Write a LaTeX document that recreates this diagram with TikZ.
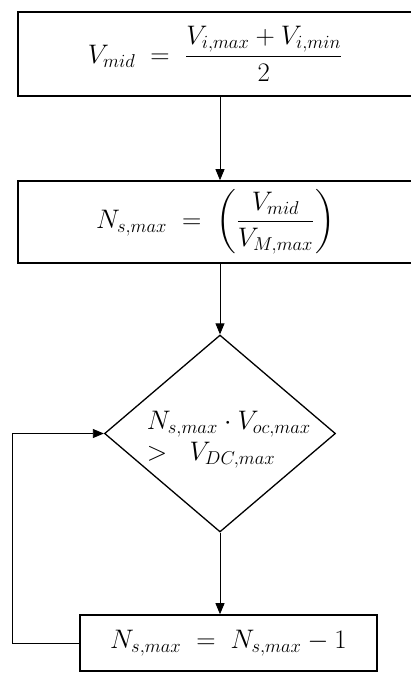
\documentclass[tikz,border=0pt]{standalone}
\usepackage{amsmath}
\usepackage{graphicx}
\usetikzlibrary{shapes.geometric,arrows.meta}
\newcommand{\bigeq}[1]{\scalebox{1.55}{\fontsize{17.28}{20}\selectfont #1}}
\begin{document}
\begin{tikzpicture}[x=1pt,y=-1pt,
  procbox/.style={draw,line width=1.6pt,rectangle,inner sep=0pt},
  decbox/.style={draw,line width=1.3pt,diamond,inner sep=0pt,minimum width=231pt,minimum height=197pt},
  conn/.style={line width=0.8pt,-{Triangle[length=11pt,width=9pt]}},
  eqtext/.style={inner sep=0pt}]
\useasboundingbox (0,0) rectangle (411,673);
\clip (0,0) rectangle (411,673);
\node[procbox,minimum width=395pt,minimum height=84pt] (b1) at (215.5,54)
  {\bigeq{$V_{mid}\;=\;\dfrac{V_{i,max}+V_{i,min}}{2}$}};
\node[procbox,minimum width=395pt,minimum height=82pt] (b2) at (215.5,222)
  {\bigeq{$N_{s,max}\;=\;\left(\dfrac{V_{mid}}{V_{M,max}}\right)$}};
\node[decbox] (d) at (220,433.5) {};
\node[eqtext] (dt) at (229,439)
  {\bigeq{\begin{tabular}{@{}l@{}}$N_{s,max}\cdot V_{oc,max}$\\[0pt]$>\;\;V_{DC,max}$\end{tabular}}};
\node[procbox,minimum width=297pt,minimum height=56pt] (b3) at (228.5,643)
  {\bigeq{$N_{s,max}\;=\;N_{s,max}-1$}};
\coordinate (lp1) at (12,643);
\coordinate (lp2) at (12,433.5);
\draw[conn] (d.north |- b1.south) -- (d.north |- b2.north);
\draw[conn] (d.north |- b2.south) -- (d.north);
\draw[conn] (d.south) -- (d.south |- b3.north);
\draw[conn] (b3.west) -- (lp1) -- (lp2) -- (d.west);
\end{tikzpicture}
\end{document}
